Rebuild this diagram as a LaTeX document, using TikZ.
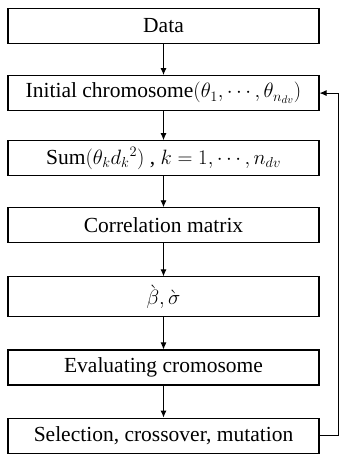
\documentclass[tikz,border=0pt]{standalone}
\usepackage{fontspec}
\setmainfont{Liberation Serif}
\usepackage{tikz}
\usetikzlibrary{arrows.meta,positioning,calc}
\tikzset{
  flow/.style={-{Latex[length=7pt,width=6pt]}, line width=0.9pt, draw=black},
  stagebox/.style={draw=black, fill=white, line width=1.1pt, minimum width=311pt,
                   minimum height=35pt, align=center, inner sep=3pt,
                   font=\fontsize{21.5}{24}\selectfont},
}

\begin{document}
\begin{tikzpicture}[x=1pt,y=1pt,node distance=31pt]
    \useasboundingbox (0,0) rectangle (339,-457);
    \node[stagebox] (data) at (163.5,-26) {Data};
    \node[stagebox,below=of data] (init) {Initial chromosome$(\theta_1,\cdots,\theta_{n_{dv}})$};
    \node[stagebox,below=29pt of init] (sum) {Sum$(\theta_k d_k{}^2)$ , $k=1,\cdots,n_{dv}$};
    \node[stagebox,below=of sum] (corr) {Correlation matrix};
    \node[stagebox,minimum height=40pt,below=33pt of corr] (est) {$\grave{\beta},\grave{\sigma}$};
    \node[stagebox,below=32pt of est] (eval) {Evaluating cromosome};
    \node[stagebox,below=32pt of eval] (sel) {Selection, crossover, mutation};
    \draw[flow] (data) -- (init);
    \draw[flow] (init) -- (sum);
    \draw[flow] (sum) -- (corr);
    \draw[flow] (corr) -- (est);
    \draw[flow] (est) -- (eval);
    \draw[flow] (eval) -- (sel);
    % loop back to the chromosome
    \coordinate[right=19pt of sel.east] (back);
    \draw[flow] (sel.east) -- (back) |- (init.east);
  \end{tikzpicture}
\end{document}
